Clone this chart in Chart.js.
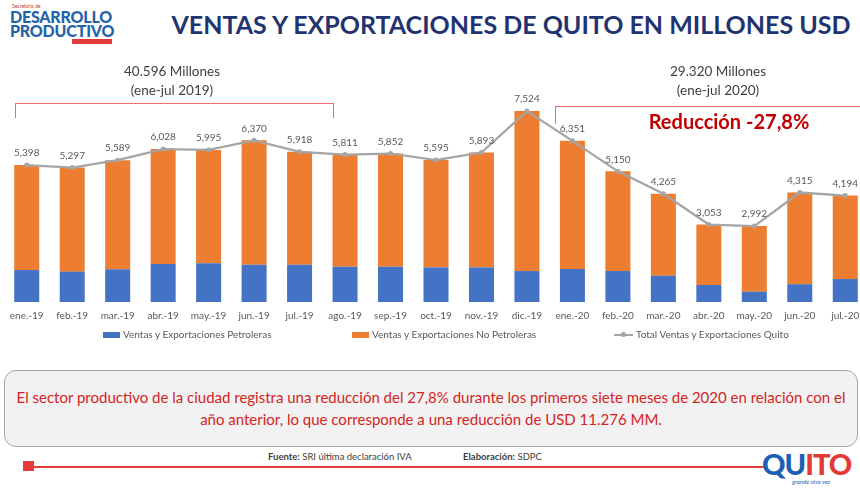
<!DOCTYPE html>
<html>
<head>
<meta charset="utf-8">
<script src="https://cdn.jsdelivr.net/npm/chart.js@4.4.1/dist/chart.umd.min.js"></script>
<style>
    html, body { margin: 0; padding: 0; background: #fff; overflow: hidden; }
    body { width: 860px; height: 488px; position: relative; font-family: Lato, "Open Sans", sans-serif; color: #404040; }
    .abs { position: absolute; }
    #chartWrap { left: 0; top: 0; width: 872px; height: 330px; }
    .title { left: 166px; top: 9px; width: 690px; text-align: center; font-size: 25px; font-weight: bold; color: #1f3470; white-space: nowrap; }
    .logo1 { left: 12px; top: 3px; font-size: 5px; color: #c0392b; }
    .logo2 { left: 10px; top: 10px; font-size: 16px; line-height: 14px; font-weight: 900; color: #2563a8; letter-spacing: -0.2px; }
    .logo3 { left: 72px; top: 39px; width: 40px; height: 5px; background: #e03a3a; }
    .period { width: 200px; text-align: center; font-size: 13.5px; line-height: 19px; color: #404040; }
    .bracket { border: 1px solid #f46a6a; border-bottom: none; }
    .reduc { left: 629px; top: 109px; width: 200px; text-align: center; font-size: 20px; font-weight: bold; color: #c00000; }
    .legend { top: 328px; font-size: 10px; color: #595959; white-space: nowrap; }
    .box { left: 4px; top: 370px; width: 854px; height: 77px; border: 1px solid #a6a6a6; border-radius: 12px; background: #f2f2f2; box-sizing: border-box; }
    .boxText { left: 4px; top: 386px; width: 854px; text-align: center; font-size: 15px; line-height: 22px; color: #d42424; white-space: nowrap; }
    .foot { top: 451px; font-size: 9.5px; color: #404040; white-space: nowrap; }
    .redline { left: 30px; top: 466px; width: 735px; height: 2px; background: #e63b3b; }
    .redsq { left: 23px; top: 461px; width: 11px; height: 10px; background: #e63b3b; }
    .quito { left: 762px; top: 446px; font-size: 29px; font-weight: 900; letter-spacing: -1px; color: #1d5fb4; }
    .quitoSub { left: 792px; top: 478px; font-size: 6px; font-style: italic; color: #1d5fb4; }
</style>
</head>
<body>
<div class="abs logo1">Secretaría de</div>
<div class="abs logo2">DESARROLLO<br>PRODUCTIVO</div>
<div class="abs logo3"></div>
<div class="abs title">VENTAS Y EXPORTACIONES DE QUITO EN MILLONES USD</div>

<div class="abs" id="chartWrap"><canvas id="salesChart" width="872" height="330"></canvas></div>

<div class="abs period" style="left:72px; top:62px;">40.596 Millones<br>(ene-jul 2019)</div>
<div class="abs period" style="left:618px; top:62px;">29.320 Millones<br>(ene-jul 2020)</div>
<div class="abs bracket" style="left:15px; top:103px; width:317px; height:14px;"></div>
<div class="abs bracket" style="left:555px; top:106px; width:320px; height:17px;"></div>
<div class="abs reduc">Reducción -27,8%</div>

<div class="abs legend" style="left:103px;"><span style="display:inline-block;width:17px;height:6px;background:#4472c4;margin-right:3px;vertical-align:middle;"></span>Ventas y Exportaciones Petroleras</div>
<div class="abs legend" style="left:352px;"><span style="display:inline-block;width:17px;height:6px;background:#ed7d31;margin-right:3px;vertical-align:middle;"></span>Ventas y Exportaciones No Petroleras</div>
<div class="abs legend" style="left:614px;"><span style="display:inline-block;width:19px;height:2px;background:#a5a5a5;margin-right:3px;vertical-align:middle;position:relative;"><span style="position:absolute;left:7px;top:-2px;width:5px;height:5px;border-radius:50%;background:#a5a5a5;"></span></span>Total Ventas y Exportaciones Quito</div>

<div class="abs box"></div>
<div class="abs boxText">El sector productivo de la ciudad registra una reducción del 27,8% durante los primeros siete meses de 2020 en relación con el<br>año anterior, lo que corresponde a una reducción de USD 11.276 MM.</div>

<div class="abs foot" style="left:268px;"><b>Fuente:</b> SRI última declaración IVA</div>
<div class="abs foot" style="left:463px;"><b>Elaboración:</b> SDPC</div>
<div class="abs redsq"></div>
<div class="abs redline"></div>
<div class="abs quito">QU<span style="color:#e53935">IT</span><span style="color:#e53935">O</span></div>
<div class="abs quitoSub">grande otra vez</div>

<script>
// Ventas y exportaciones de Quito, millones USD
const months = ['ene.-19', 'feb.-19', 'mar.-19', 'abr.-19', 'may.-19', 'jun.-19', 'jul.-19', 'ago.-19', 'sep.-19', 'oct.-19', 'nov.-19', 'dic.-19',
    'ene.-20', 'feb.-20', 'mar.-20', 'abr.-20', 'may.-20', 'jun.-20', 'jul.-20'];
const totalQuito = [5398, 5297, 5589, 6028, 5995, 6370, 5918, 5811, 5852, 5595, 5893, 7524, 6351, 5150, 4265, 3053, 2992, 4315, 4194];
const petroleras = [1260, 1195, 1290, 1495, 1525, 1470, 1470, 1390, 1390, 1365, 1365, 1220, 1300, 1220, 1035, 670, 405, 700, 905];
const noPetroleras = totalQuito.map((t, i) => t - petroleras[i]);

const valueLabels = {
    id: 'valueLabels',
    afterDatasetsDraw(chart) {
        const ctx = chart.ctx;
        const meta = chart.getDatasetMeta(2);
        ctx.save();
        ctx.font = '10px Lato, sans-serif';
        ctx.fillStyle = '#595959';
        ctx.textAlign = 'center';
        ctx.textBaseline = 'middle';
        meta.data.forEach((pt, i) => {
            ctx.fillText(totalQuito[i].toLocaleString('en-US'), pt.x, pt.y - 12);
        });
        ctx.restore();
    }
};

const ctx = document.getElementById('salesChart').getContext('2d');
new Chart(ctx, {
    type: 'bar',
    data: {
        labels: months,
        datasets: [
            {
                label: 'Ventas y Exportaciones Petroleras',
                data: petroleras,
                backgroundColor: '#4472c4',
                stack: 'bars',
                order: 2
            },
            {
                label: 'Ventas y Exportaciones No Petroleras',
                data: noPetroleras,
                backgroundColor: '#ed7d31',
                stack: 'bars',
                order: 2
            },
            {
                type: 'line',
                label: 'Total Ventas y Exportaciones Quito',
                data: totalQuito,
                borderColor: '#a5a5a5',
                backgroundColor: '#a5a5a5',
                borderWidth: 2.25,
                pointRadius: 2.5,
                pointBackgroundColor: '#a5a5a5',
                pointBorderWidth: 0,
                tension: 0,
                stack: 'line',
                order: 0
            }
        ]
    },
    options: {
        responsive: false,
        animation: false,
        layout: { padding: { top: 99, left: 0, right: 0, bottom: 0 } },
        datasets: { bar: { categoryPercentage: 1, barPercentage: 0.55 } },
        plugins: {
            legend: { display: false },
            tooltip: { enabled: false }
        },
        scales: {
            x: {
                stacked: true,
                grid: { display: false, drawTicks: false },
                border: { display: false },
                ticks: { color: '#595959', font: { family: 'Lato', size: 10 }, padding: 8, maxRotation: 0, autoSkip: false }
            },
            y: {
                stacked: true,
                display: false,
                min: 0,
                max: 8000
            }
        }
    },
    plugins: [valueLabels]
});
</script>
</body>
</html>
